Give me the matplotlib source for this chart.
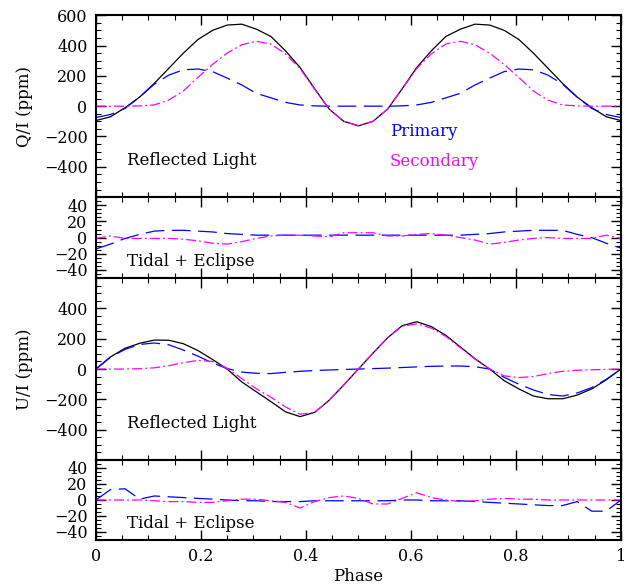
import matplotlib
matplotlib.use('Agg')
import matplotlib.pyplot as plt
from matplotlib.ticker import MultipleLocator

plt.rcParams['font.family'] = ['DejaVu Serif']
plt.rcParams['font.size'] = 12

# phase grid (37 points, step 1/36)
phase = [i / 36 for i in range(37)]

# Q/I reflected light (ppm)
q_total = [-95, -70, -10, 60, 150, 250, 350, 440, 500, 535, 541, 508, 460, 365, 255, 115, -20, -100, -130,
           -100, -20, 115, 255, 365, 460, 508, 541, 535, 500, 440, 350, 250, 150, 60, -10, -70, -95]
q_prim = [-75, -55, -15, 60, 145, 205, 240, 245, 228, 185, 140, 85, 55, 25, 8, 2, 0, 0, 0,
          0, 0, 2, 8, 25, 55, 85, 140, 185, 228, 245, 240, 205, 145, 60, -15, -55, -75]
q_sec = [0, 0, 0, 2, 8, 40, 100, 190, 275, 350, 405, 428, 410, 345, 248, 112, -20, -100, -128,
         -100, -20, 112, 248, 345, 410, 428, 405, 350, 275, 190, 100, 40, 8, 2, 0, 0, 0]

# Q/I tidal + eclipse (ppm)
q_prim_te = [-14, -8, -1, 4, 8, 9, 9, 8, 7, 5, 4, 3, 3, 3, 3, 3, 3, 3, 3,
             3, 3, 3, 3, 3, 3, 3, 4, 5, 7, 8, 9, 9, 9, 4, 0, -7, -13]
q_sec_te = [-1, 2, -1, -1, -1, -1, -2, -4, -7, -8, -5, -1, 2, 3, 3, 2, 1, 6, 6,
            6, 2, 2, 4, 5, 3, 0, -3, -8, -6, -3, -1, 0, -1, -1, -1, 3, -1]

# U/I reflected light (ppm)
u_total = [0, 80, 137, 170, 191, 190, 167, 122, 63, 0, -85, -150, -215, -282, -314, -286, -206, -105, 0,
           105, 206, 286, 312, 280, 222, 145, 68, 0, -77, -131, -178, -196, -196, -172, -131, -71, 0]
u_prim = [0, 78, 130, 162, 172, 160, 125, 85, 40, 3, -20, -28, -30, -22, -15, -10, -6, -3, 0,
          3, 6, 10, 14, 18, 20, 20, 15, 0, -55, -100, -138, -168, -178, -158, -122, -68, 0]
u_sec = [0, 0, 0, 2, 8, 22, 42, 57, 50, 5, -62, -130, -185, -250, -298, -286, -205, -105, 0,
         105, 205, 282, 298, 270, 215, 140, 65, 0, -45, -56, -50, -30, -15, -8, -5, -2, 0]

# U/I tidal + eclipse (ppm)
u_prim_te = [0, 13, 14, 1, 5, 4, 3, 2, 1, 0, -1, -1, -2, -2, -2, -1, -1, -1, -1,
             -1, -1, 0, 0, -1, -1, -1, -2, -3, -4, -5, -6, -7, -7, -2, -14, -14, 0]
u_sec_te = [0, 0, 0, 0, -1, -2, -2, -3, -3, -1, 1, 1, -1, -3, -10, -2, 3, 5, 2,
            -5, -5, 2, 9, 3, 0, -2, -1, 1, 2, 1, 1, 0, 0, 0, 0, 0, 0]

blue = '#0000ff'
magenta = '#ff00ff'

fig = plt.figure(figsize=(6.31, 5.85), dpi=100)
gs = fig.add_gridspec(4, 1, height_ratios=[182, 81, 182, 80], hspace=0,
                      left=0.152, right=0.984, top=0.974, bottom=0.077)
axes = [fig.add_subplot(gs[i]) for i in range(4)]

def trace(ax, tot, prim, sec):
    if tot is not None:
        ax.plot(phase, tot, color='black', lw=0.9)
    ax.plot(phase, prim, color=blue, lw=0.9, dashes=(15, 6))
    ax.plot(phase, sec, color=magenta, lw=0.9, dashes=(8, 2.5, 1.5, 2.5))

trace(axes[0], q_total, q_prim, q_sec)
trace(axes[1], None, q_prim_te, q_sec_te)
trace(axes[2], u_total, u_prim, u_sec)
trace(axes[3], None, u_prim_te, u_sec_te)

# axis ranges and ticks
axes[0].set_ylim(-600, 600)
axes[0].set_yticks([600, 400, 200, 0, -200, -400])
axes[0].yaxis.set_minor_locator(MultipleLocator(50))
axes[2].set_ylim(-600, 600)
axes[2].set_yticks([400, 200, 0, -200, -400])
axes[2].yaxis.set_minor_locator(MultipleLocator(50))
for ax in (axes[1], axes[3]):
    ax.set_ylim(-50, 50)
    ax.set_yticks([40, 20, 0, -20, -40])
    ax.yaxis.set_minor_locator(MultipleLocator(5))

for i, ax in enumerate(axes):
    ax.set_xlim(0, 1)
    ax.set_xticks([0, 0.2, 0.4, 0.6, 0.8, 1])
    ax.xaxis.set_minor_locator(MultipleLocator(0.05))
    ax.tick_params(which='both', direction='in', top=True, right=True, labelsize=11.5)
    ax.tick_params(which='major', length=7, width=1, pad=6)
    ax.tick_params(which='minor', length=3.5, width=0.8)
    for s in ax.spines.values():
        s.set_linewidth(1.5)
    if i < 3:
        ax.tick_params(labelbottom=False)
axes[3].set_xticklabels(['0', '0.2', '0.4', '0.6', '0.8', '1'])
axes[3].set_xlabel('Phase', labelpad=2)

axes[0].set_ylabel('Q/I (ppm)')
axes[2].set_ylabel('U/I (ppm)')
axes[0].yaxis.set_label_coords(-0.12, 0.5)
axes[2].yaxis.set_label_coords(-0.12, 0.5)

axes[0].text(0.06, -360, 'Reflected Light', va='center')
axes[0].text(0.56, -165, 'Primary', color=blue, va='center')
axes[0].text(0.56, -365, 'Secondary', color=magenta, va='center')
axes[1].text(0.06, -29, 'Tidal + Eclipse', va='center')
axes[2].text(0.06, -362, 'Reflected Light', va='center')
axes[3].text(0.06, -29, 'Tidal + Eclipse', va='center')

fig.savefig('out.png', dpi=100)
